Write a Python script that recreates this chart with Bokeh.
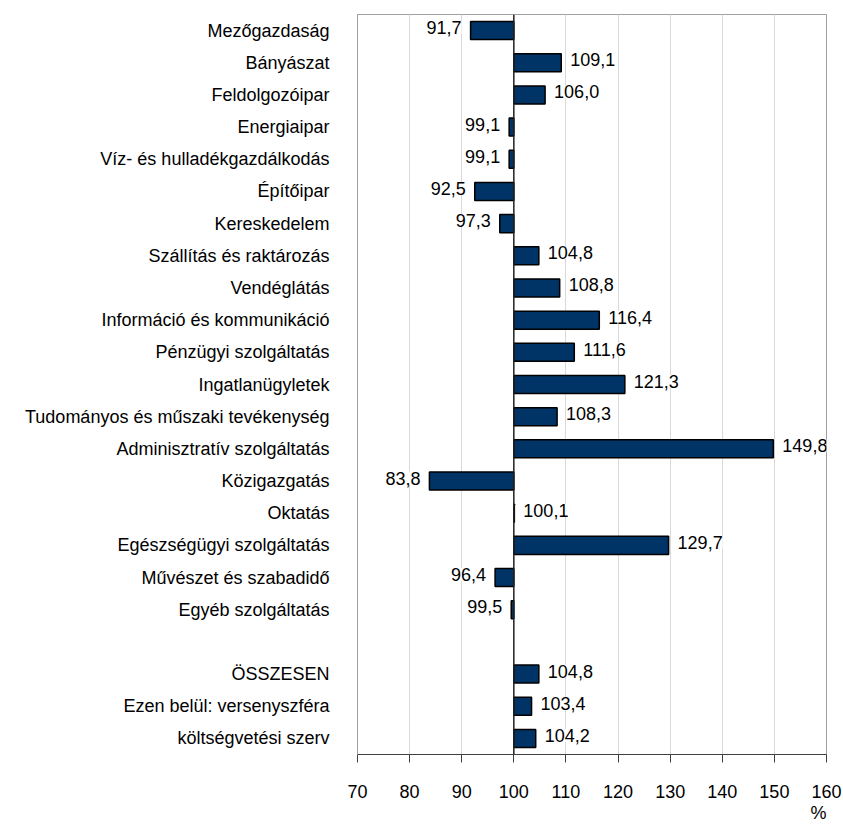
from bokeh.plotting import figure
from bokeh.models import (ColumnDataSource, FactorRange, Range1d, FixedTicker,
                          LabelSet, Span, Title)
from bokeh.core.properties import value
from bokeh.embed import file_html
from bokeh.resources import INLINE

# ---- data ----
sectors = ["Mezőgazdaság", "Bányászat", "Feldolgozóipar", "Energiaipar",
           "Víz- és hulladékgazdálkodás", "Építőipar", "Kereskedelem",
           "Szállítás és raktározás", "Vendéglátás", "Információ és kommunikáció",
           "Pénzügyi szolgáltatás", "Ingatlanügyletek",
           "Tudományos és műszaki tevékenység", "Adminisztratív szolgáltatás",
           "Közigazgatás", "Oktatás", "Egészségügyi szolgáltatás",
           "Művészet és szabadidő", "Egyéb szolgáltatás"]
sector_values = [91.7, 109.1, 106.0, 99.1, 99.1, 92.5, 97.3, 104.8, 108.8, 116.4,
                 111.6, 121.3, 108.3, 149.8, 83.8, 100.1, 129.7, 96.4, 99.5]
totals = ["ÖSSZESEN", "Ezen belül: versenyszféra", "költségvetési szerv"]
total_values = [104.8, 103.4, 104.2]
gap = " "
base = 100
x_ticks = [70, 80, 90, 100, 110, 120, 130, 140, 150, 160]

# ---- build ----
FONT = "Liberation Sans"
FS = "18px"

cats = sectors + totals
vals = sector_values + total_values
factors = list(reversed(sectors + [gap] + totals))
labels = [f"{v:.1f}".replace(".", ",") for v in vals]

src = ColumnDataSource(dict(cat=cats, val=vals, base=[base] * len(vals), lab=labels))
hi = [i for i, v in enumerate(vals) if v >= base]
lo = [i for i, v in enumerate(vals) if v < base]
src_hi = ColumnDataSource(dict(cat=[cats[i] for i in hi], val=[vals[i] for i in hi],
                               lab=[labels[i] for i in hi]))
src_lo = ColumnDataSource(dict(cat=[cats[i] for i in lo], val=[vals[i] for i in lo],
                               lab=[labels[i] for i in lo]))

p = figure(width=843, height=822, y_range=FactorRange(factors=factors),
           x_range=Range1d(x_ticks[0], x_ticks[-1]),
           output_backend="svg", toolbar_location=None,
           min_border_left=357, min_border_right=17, min_border_top=14,
           min_border_bottom=40)
p.background_fill_color = "white"
p.border_fill_color = "white"
p.outline_line_color = "#a0a0a0"
p.outline_line_width = 1

p.hbar(y="cat", left="base", right="val", height=0.56, source=src,
       fill_color="#003366", line_color="black", line_width=1.5)

p.add_layout(Span(location=base, dimension="height", line_color="#222222", line_width=1.5))

common = dict(text_font=value(FONT), text_font_size=value(FS), text_color="black",
              text_baseline="middle", background_fill_color="white", y_offset=3)
p.add_layout(LabelSet(x="val", y="cat", text="lab", source=src_hi, text_align="left",
                      x_offset=9, **common))
p.add_layout(LabelSet(x="val", y="cat", text="lab", source=src_lo, text_align="right",
                      x_offset=-9, **common))

p.xaxis.ticker = FixedTicker(ticks=x_ticks)
p.xaxis.minor_tick_line_color = None
p.xaxis.major_tick_in = 0
p.xaxis.major_tick_out = 8
p.xaxis.axis_line_color = "#404040"
p.xaxis.major_tick_line_color = "#404040"
p.xaxis.major_label_text_font = FONT
p.xaxis.major_label_text_font_size = FS
p.xaxis.major_label_text_color = "black"
p.xaxis.major_label_standoff = 22

p.yaxis.axis_line_color = "#a0a0a0"
p.yaxis.major_tick_line_color = None
p.yaxis.minor_tick_line_color = None
p.yaxis.major_label_text_font = FONT
p.yaxis.major_label_text_font_size = FS
p.yaxis.major_label_text_color = "black"
p.yaxis.major_label_standoff = 22

p.ygrid.grid_line_color = None
p.xgrid.grid_line_color = "#d9d9d9"
p.xgrid.grid_line_width = 1

p.add_layout(Title(text="%", align="right", text_font=FONT, text_font_size=FS,
                   text_font_style="normal", text_color="black", standoff=0), "below")

open("out.html", "w").write(file_html(p, INLINE))
